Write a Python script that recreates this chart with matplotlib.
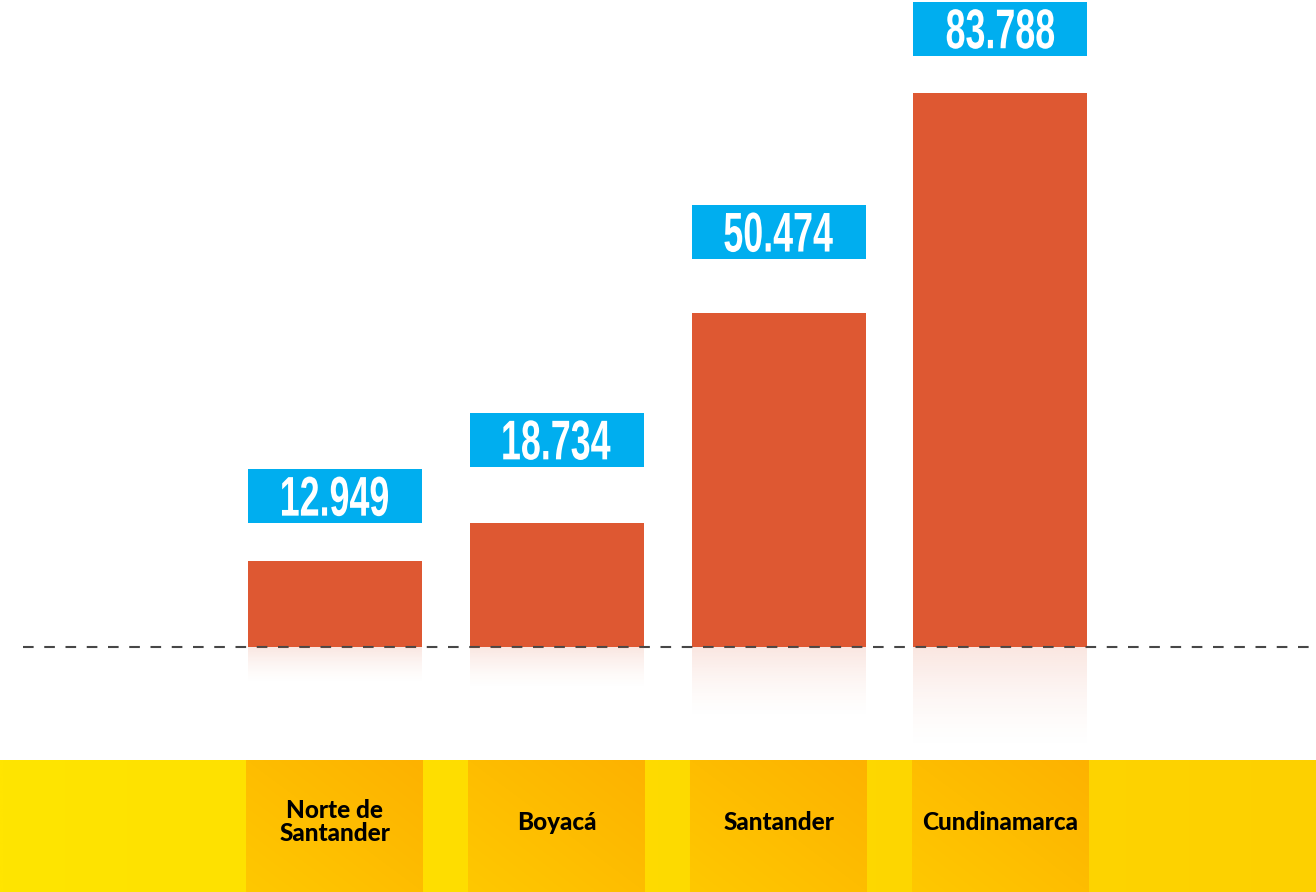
import numpy as np
import matplotlib
matplotlib.use('Agg')
import matplotlib.pyplot as plt
import matplotlib.transforms as mtransforms
from matplotlib.patches import Rectangle, PathPatch
from matplotlib.textpath import TextPath
from matplotlib.font_manager import FontProperties
from matplotlib.colors import to_rgb

# data
departamentos = ['Norte de\nSantander', 'Boyacá', 'Santander', 'Cundinamarca']
valores = [12949, 18734, 50474, 83788]
etiquetas = ['12.949', '18.734', '50.474', '83.788']

# layout: gap between bar top and label box (px)
gap_px = [38, 56, 54, 37]

# colors
c_bar = '#DE5832'
c_box = '#00AEEF'
c_band_l = '#FFE500'
c_band_r = '#FDD000'
c_cell_tr = '#FDB200'
c_cell_bl = '#FFC800'

W, H = 1316, 892
base_px = 647          # baseline (px from top)
ppu = 554 / 83788      # px per data unit
step_px = 221.8        # px between bar centres
x0_px = 335            # centre of first bar
bar_w = 174 / step_px

fig = plt.figure(figsize=(W / 100, H / 100), dpi=100)
fig.patch.set_facecolor('white')

# upper axes: bars above baseline
ax = fig.add_axes([0, (H - base_px) / H, 1, base_px / H])
# lower axes: reflections + yellow band, in pixels
ax2 = fig.add_axes([0, 0, 1, (H - base_px) / H])
for a in (ax, ax2):
    a.axis('off')

xlim = (-x0_px / step_px, (W - x0_px) / step_px)
x = np.arange(len(valores))

ax.bar(x, valores, width=bar_w, color=c_bar, zorder=2)

# value boxes
box_h = 54 / ppu
fp = FontProperties(family='Liberation Sans', weight='bold')
for xi, v, lab, g in zip(x, valores, etiquetas, gap_px):
    y0 = v + g / ppu
    ax.add_patch(Rectangle((xi - bar_w / 2, y0), bar_w, box_h,
                           color=c_box, lw=0, zorder=3, clip_on=False))
    tp = TextPath((0, 0), lab, size=56, prop=fp)
    bb = tp.get_extents()
    tr = (mtransforms.Affine2D()
          .translate(-(bb.x0 + bb.x1) / 2, -(bb.y0 + bb.y1) / 2)
          .scale(0.64, 1.0)
          + mtransforms.ScaledTranslation(xi, y0 + box_h / 2, ax.transData))
    ax.add_patch(PathPatch(tp, transform=tr, color='white', lw=0, zorder=4,
                           clip_on=False))

ax.set_xlim(*xlim)
ax.set_ylim(0, base_px / ppu)

# dashed baseline
ax.axhline(0, xmin=23 / W, xmax=1310 / W, color='#474747', lw=1.5,
           linestyle=(0, (5.1, 5.1)), zorder=5, clip_on=False)

# lower area (pixel units, 0 at bottom)
low_h = H - base_px
band_h = H - 760
ax2.set_xlim(*xlim)
ax2.set_ylim(0, low_h)

# reflections
rgb = np.array(to_rgb(c_bar))
for xi, v in zip(x, valores):
    hpx = v * ppu
    L = 25 + 0.15 * hpx
    n = 100
    r = np.linspace(0, 1, n)
    img = np.zeros((n, 1, 4))
    img[:, 0, :3] = rgb
    img[:, 0, 3] = 0.15 * (1 - r) ** 1.6
    ax2.imshow(img, extent=(xi - bar_w / 2, xi + bar_w / 2, low_h - L, low_h),
               origin='upper', aspect='auto', interpolation='bilinear', zorder=1)

# band gradient
gx = np.linspace(0, 1, 256)
band = (np.outer(1 - gx, to_rgb(c_band_l)) + np.outer(gx, to_rgb(c_band_r)))[None, :, :]
ax2.imshow(band, extent=(xlim[0], xlim[1], 0, band_h), origin='lower',
           aspect='auto', interpolation='bilinear', zorder=1)

# cells under bars
cell_w = 177 / step_px
gxx, gyy = np.meshgrid(np.linspace(0, 1, 64), np.linspace(0, 1, 64))
t = ((1 - gxx) + (1 - gyy)) / 2
cell = (t[..., None] * np.array(to_rgb(c_cell_bl))
        + (1 - t[..., None]) * np.array(to_rgb(c_cell_tr)))
for xi, name in zip(x, departamentos):
    ax2.imshow(cell, extent=(xi - cell_w / 2, xi + cell_w / 2, 0, band_h),
               origin='lower', aspect='auto', interpolation='bilinear', zorder=2)
    ax2.text(xi, band_h / 2 + 4, name, ha='center', va='center',
             fontsize=17.5, fontweight='black', family=['Lato', 'DejaVu Sans'],
             color='black', linespacing=1.0, zorder=3)

ax2.set_xlim(*xlim)
ax2.set_ylim(0, low_h)

fig.savefig('out.png', dpi=100, facecolor='white')
